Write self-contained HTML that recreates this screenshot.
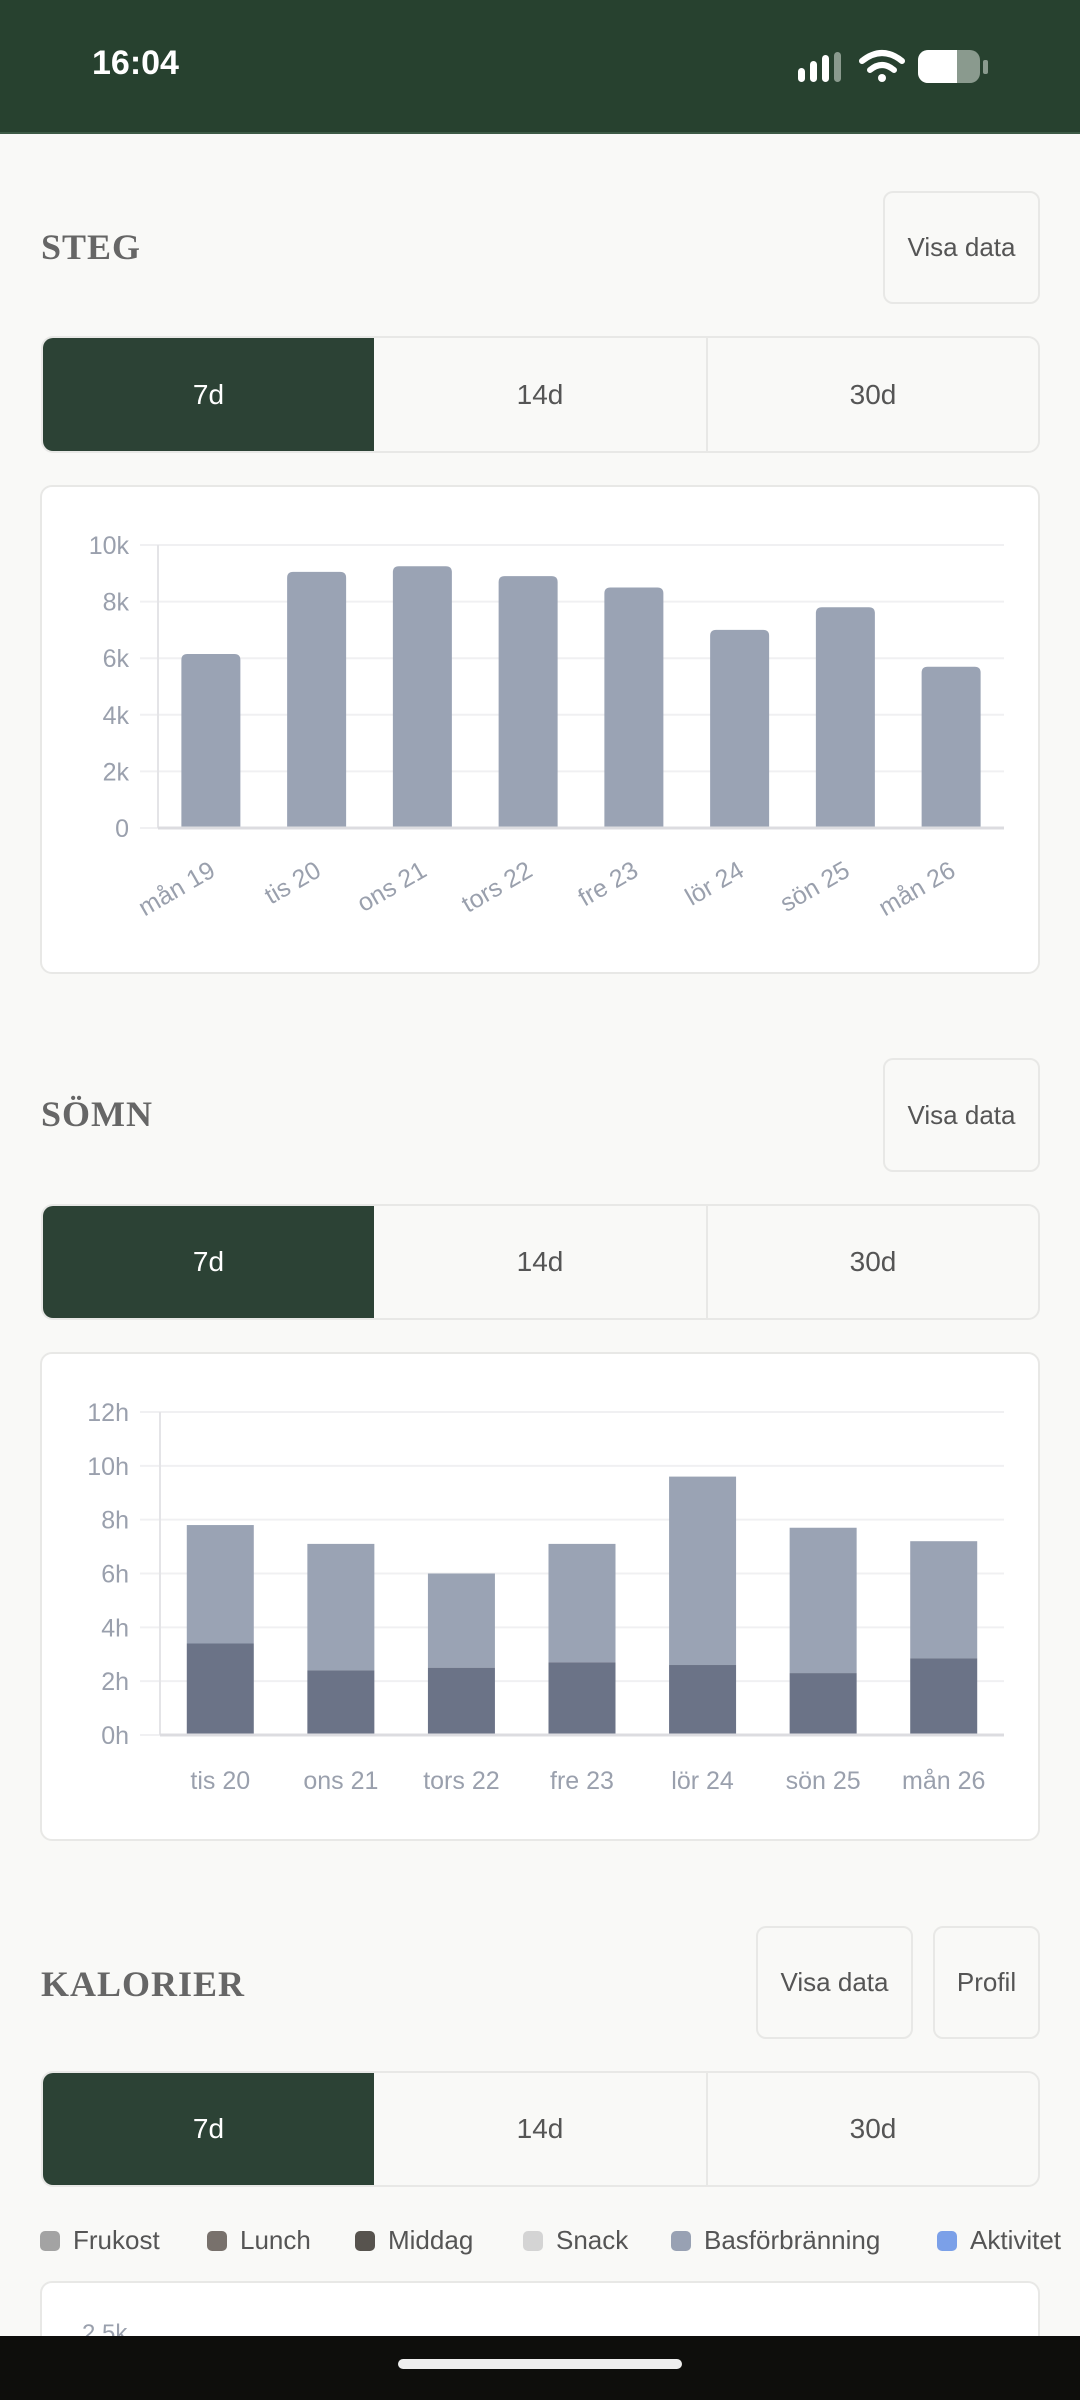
<!DOCTYPE html>
<html style="overflow:hidden;width:1080px;height:2400px"><head><meta charset="utf-8"><style>
html,body{margin:0;width:1080px;height:2400px;overflow:hidden}
body{background:#f9f9f7;font-family:"Liberation Sans",sans-serif;position:relative}
.abs{position:absolute}
.title{position:absolute;left:41px;font-family:"Liberation Serif",serif;font-weight:bold;font-size:36px;color:#666;letter-spacing:1px;transform:translateY(-50%)}
.btn{position:absolute;border:2px solid #e8e8e6;border-radius:10px;background:#f9f9f7;color:#555;font-size:26px;display:flex;align-items:center;justify-content:center;box-sizing:border-box}
.seg{position:absolute;left:41px;width:999px;border:2px solid #e8e8e6;border-radius:12px;box-sizing:border-box;display:flex;overflow:hidden;background:#f9f9f7}
.seg div{display:flex;align-items:center;justify-content:center;font-size:28px;color:#555;box-sizing:border-box}
.seg .on{background:#2c4235;color:#fff}
.card{position:absolute;left:40px;width:1000px;background:#fff;border:2px solid #e8e8e6;border-radius:12px;box-sizing:border-box}
.leg{position:absolute;top:2225px;font-size:26px;color:#555;display:flex;align-items:center;white-space:nowrap}
.leg i{display:inline-block;width:20px;height:20px;border-radius:5px;margin-right:13px}
</style></head><body>
<div class="abs" style="left:0;top:0;width:1080px;height:132px;background:#27412f;border-bottom:2px solid #3d5a46"></div>
<div class="abs" style="left:92px;top:44px;font-size:34px;font-weight:bold;color:#fff">16:04</div>
<svg class="abs" style="left:790px;top:45px" width="210" height="45">
<rect x="8" y="23" width="7" height="14" rx="3.5" fill="#fff"/><rect x="20" y="16" width="7" height="21" rx="3.5" fill="#fff"/><rect x="32" y="10" width="7" height="27" rx="3.5" fill="#fff"/><rect x="44" y="7" width="7" height="30" rx="3.5" fill="#8a9a8e"/>
<path d="M72 16 Q92 0 112 16" stroke="#fff" stroke-width="6" fill="none" stroke-linecap="round"/><path d="M80 25 Q92 15 104 25" stroke="#fff" stroke-width="6" fill="none" stroke-linecap="round"/><circle cx="92" cy="33" r="4" fill="#fff"/>
<rect x="128" y="5" width="62" height="33" rx="10" fill="#8a9a8e"/><path d="M138 5 H167 V38 H138 A10 10 0 0 1 128 28 V15 A10 10 0 0 1 138 5Z" fill="#fff"/><rect x="193" y="15" width="5" height="14" rx="2" fill="#8a9a8e"/>
</svg>

<div class="title" style="top:247px">STEG</div>
<div class="btn" style="left:883px;top:191px;width:157px;height:113px">Visa data</div>
<div class="seg" style="top:336px;height:117px">
<div class="on" style="width:331px">7d</div><div style="width:334px;border-right:2px solid #e8e8e6">14d</div><div style="width:330px">30d</div></div>
<div class="card" style="top:485px;height:489px"></div>
<svg class="abs" id="steps" style="left:0;top:0" width="1080" height="1000"></svg>

<div class="title" style="top:1114px">SÖMN</div>
<div class="btn" style="left:883px;top:1058px;width:157px;height:114px">Visa data</div>
<div class="seg" style="top:1204px;height:116px">
<div class="on" style="width:331px">7d</div><div style="width:334px;border-right:2px solid #e8e8e6">14d</div><div style="width:330px">30d</div></div>
<div class="card" style="top:1352px;height:489px"></div>
<svg class="abs" id="sleep" style="left:0;top:0" width="1080" height="1900"></svg>

<div class="title" style="top:1984px">KALORIER</div>
<div class="btn" style="left:756px;top:1926px;width:157px;height:113px">Visa data</div>
<div class="btn" style="left:933px;top:1926px;width:107px;height:113px">Profil</div>
<div class="seg" style="top:2071px;height:116px">
<div class="on" style="width:331px">7d</div><div style="width:334px;border-right:2px solid #e8e8e6">14d</div><div style="width:330px">30d</div></div>
<div class="leg" style="left:40px"><i style="background:#a3a3a3"></i>Frukost</div>
<div class="leg" style="left:207px"><i style="background:#78716c"></i>Lunch</div>
<div class="leg" style="left:355px"><i style="background:#57534e"></i>Middag</div>
<div class="leg" style="left:523px"><i style="background:#d4d4d4"></i>Snack</div>
<div class="leg" style="left:671px"><i style="background:#98a1b3"></i>Basförbränning</div>
<div class="leg" style="left:937px;width:143px;overflow:hidden"><i style="background:#7ba0e8"></i>Aktivitet</div>
<div class="card" style="top:2281px;height:80px"></div>
<div class="abs" style="left:82px;top:2320px;font-size:24px;color:#9aa0ad">2.5k</div>
<div class="abs" style="left:0;top:2336px;width:1080px;height:64px;background:#0e0e0c"></div>
<div class="abs" style="left:398px;top:2359px;width:284px;height:10px;border-radius:5px;background:#eee"></div>

<script>
const NS="http://www.w3.org/2000/svg";
const stepDays=["mån 19","tis 20","ons 21","tors 22","fre 23","lör 24","sön 25","mån 26"];
const stepValues=[6150,9050,9250,8900,8500,7000,7800,5700];
const stepTicks=[0,2000,4000,6000,8000,10000];
const stepTickLabels=["0","2k","4k","6k","8k","10k"];
const sleepDays=["tis 20","ons 21","tors 22","fre 23","lör 24","sön 25","mån 26"];
const sleepDeep=[3.4,2.4,2.5,2.7,2.6,2.3,2.85];
const sleepTotal=[7.8,7.1,6.0,7.1,9.6,7.7,7.2];
const sleepTicks=[0,2,4,6,8,10,12];
const sleepTickLabels=["0h","2h","4h","6h","8h","10h","12h"];
function mk(svg,tag,attrs,name){const e=document.createElementNS(NS,tag);for(const k in attrs)e.setAttribute(k,attrs[k]);


svg.appendChild(e);return e;}
(function(){
const svg=document.getElementById('steps');
const L=158,R=1004,T=545,B=828,max=10000;
const y=v=>B-(v/max)*(B-T);const step=(R-L)/stepDays.length;const x=i=>L+step*(i+0.5);
stepTicks.forEach((t,i)=>{mk(svg,'line',{x1:L-18,x2:R,y1:y(t),y2:y(t),stroke:'#f0f0f2','stroke-width':2},'steps-gridline');
const tx=mk(svg,'text',{x:129,y:y(t)+9,'text-anchor':'end','font-size':25,fill:'#9aa0ad','font-family':'Liberation Sans'},'steps-y-tick');tx.textContent=stepTickLabels[i];});
mk(svg,'line',{x1:L,x2:L,y1:T,y2:B,stroke:'#e4e4e7','stroke-width':2},'steps-y-axis');
stepValues.forEach((v,i)=>{const w=59;mk(svg,'path',{d:`M${x(i)-w/2} ${B} V${y(v)+6} Q${x(i)-w/2} ${y(v)} ${x(i)-w/2+6} ${y(v)} H${x(i)+w/2-6} Q${x(i)+w/2} ${y(v)} ${x(i)+w/2} ${y(v)+6} V${B}Z`,fill:'#9aa3b4'},'steps-bar');
const tx=mk(svg,'text',{x:x(i)+6,y:875,'text-anchor':'end','font-size':25,fill:'#9aa0ad','font-family':'Liberation Sans',transform:`rotate(-30 ${x(i)+6} 875)`},'steps-x-label');tx.textContent=stepDays[i];});
mk(svg,'line',{x1:L,x2:R,y1:B,y2:B,stroke:'#dcdce0','stroke-width':3},'steps-x-axis');
})();
(function(){
const svg=document.getElementById('sleep');
const L=160,R=1004,T=1412,B=1735,max=12;
const y=v=>B-(v/max)*(B-T);const step=(R-L)/sleepDays.length;const x=i=>L+step*(i+0.5);
sleepTicks.forEach((t,i)=>{mk(svg,'line',{x1:L-20,x2:R,y1:y(t),y2:y(t),stroke:'#f0f0f2','stroke-width':2},'sleep-gridline');
const tx=mk(svg,'text',{x:129,y:y(t)+9,'text-anchor':'end','font-size':25,fill:'#9aa0ad','font-family':'Liberation Sans'},'sleep-y-tick');tx.textContent=sleepTickLabels[i];});
mk(svg,'line',{x1:L,x2:L,y1:T,y2:B,stroke:'#e4e4e7','stroke-width':2},'sleep-y-axis');
sleepDays.forEach((d,i)=>{const w=67;
mk(svg,'rect',{x:x(i)-w/2,y:y(sleepTotal[i]),width:w,height:y(sleepDeep[i])-y(sleepTotal[i]),fill:'#9aa3b4'},'sleep-light-bar');
mk(svg,'rect',{x:x(i)-w/2,y:y(sleepDeep[i]),width:w,height:B-y(sleepDeep[i]),fill:'#6b7387'},'sleep-deep-bar');
const tx=mk(svg,'text',{x:x(i),y:1789,'text-anchor':'middle','font-size':25,fill:'#9aa0ad','font-family':'Liberation Sans'},'sleep-x-label');tx.textContent=d;});
mk(svg,'line',{x1:L,x2:R,y1:B,y2:B,stroke:'#dcdce0','stroke-width':3},'sleep-x-axis');
})();
</script>
</body></html>
